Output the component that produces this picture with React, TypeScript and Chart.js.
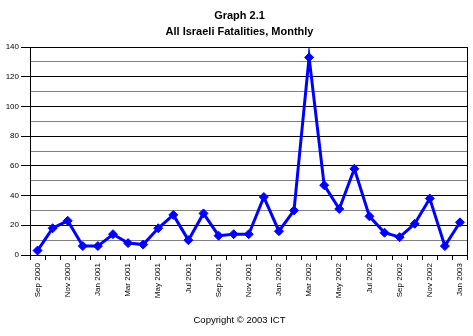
import React, { useEffect, useRef } from "react";
import { Chart, registerables } from "chart.js";

Chart.register(...registerables);

const months: string[] = [
  "Sep 2000", "Oct 2000", "Nov 2000", "Dec 2000",
  "Jan 2001", "Feb 2001", "Mar 2001", "Apr 2001", "May 2001", "Jun 2001",
  "Jul 2001", "Aug 2001", "Sep 2001", "Oct 2001", "Nov 2001", "Dec 2001",
  "Jan 2002", "Feb 2002", "Mar 2002", "Apr 2002", "May 2002", "Jun 2002",
  "Jul 2002", "Aug 2002", "Sep 2002", "Oct 2002", "Nov 2002", "Dec 2002",
  "Jan 2003",
];

const fatalities: number[] = [
  3, 18, 23, 6, 6, 14, 8, 7, 18, 27, 10, 28, 13, 14, 14, 39,
  16, 30, 133, 47, 31, 58, 26, 15, 12, 21, 38, 6, 22,
];

const titleLines: string[] = ["Graph 2.1", "All Israeli Fatalities, Monthly"];
const copyrightText = "Copyright \u00A9 2003 ICT";

const FONT = "'Liberation Sans', Arial, sans-serif";

export default function App() {
  const ref = useRef<HTMLCanvasElement | null>(null);

  useEffect(() => {
    if (!ref.current) return;
    const chart = new Chart(ref.current, {
      type: "line",
      data: {
        labels: months,
        datasets: [
          {
            data: fatalities,
            borderColor: "#0000ff",
            backgroundColor: "#0000ff",
            borderWidth: 3,
            pointStyle: "rectRot",
            pointRadius: 4.5,
            pointBorderWidth: 1,
            tension: 0,
          },
        ],
      },
      options: {
        animation: false,
        responsive: true,
        maintainAspectRatio: false,
        layout: { padding: { left: 6, right: 0, top: 0, bottom: 0 } },
        plugins: {
          legend: { display: false },
          tooltip: { enabled: false },
          title: {
            display: true,
            text: titleLines,
            color: "#000",
            font: { family: FONT, size: 11, weight: "bold", lineHeight: 1.4 },
            padding: { top: 8.5, bottom: 7.7 },
          },
          subtitle: {
            display: true,
            position: "bottom",
            text: copyrightText,
            color: "#000",
            font: { family: FONT, size: 9.5, lineHeight: 1.2 },
            padding: { top: 0, bottom: 10 },
          },
        },
        scales: {
          x: {
            offset: true,
            grid: {
              offset: true,
              drawOnChartArea: false,
              tickLength: 5,
              color: "#000",
            },
            border: { display: true, color: "#000", width: 1 },
            ticks: {
              autoSkip: false,
              maxRotation: 90,
              minRotation: 90,
              padding: 3,
              color: "#000",
              font: { family: FONT, size: 8 },
              callback: (_v: any, i: number) => (i % 2 === 0 ? months[i] : ""),
            },
            afterFit: (s: any) => {
              s.height = 59.6;
            },
          },
          y: {
            min: 0,
            max: 140,
            grid: {
              color: (c: any) => (c.tick && c.tick.value % 20 === 0 ? "#000" : "#808080"),
              tickColor: (c: any) => (c.tick && c.tick.value % 20 === 0 ? "#000" : "rgba(0,0,0,0)"),
              tickLength: 9,
              lineWidth: 1,
            },
            border: { display: true, color: "#000", width: 1 },
            ticks: {
              stepSize: 10,
              padding: 2,
              color: "#000",
              font: { family: FONT, size: 8 },
              callback: (v: any) => (Number(v) % 20 === 0 ? String(v) : ""),
            },
            afterFit: (s: any) => {
              s.width = 24;
            },
          },
          yRight: {
            position: "right",
            min: 0,
            max: 140,
            grid: { display: false, drawTicks: false },
            ticks: { display: false },
            border: { display: true, color: "#000", width: 1 },
            afterFit: (s: any) => {
              s.width = 4;
            },
          },
        },
      },
    });
    return () => chart.destroy();
  }, []);

  return (
    <div style={{ position: "fixed", left: 0, top: 0, width: 473, height: 336, background: "#fff" }}>
      <canvas ref={ref} />
    </div>
  );
}
